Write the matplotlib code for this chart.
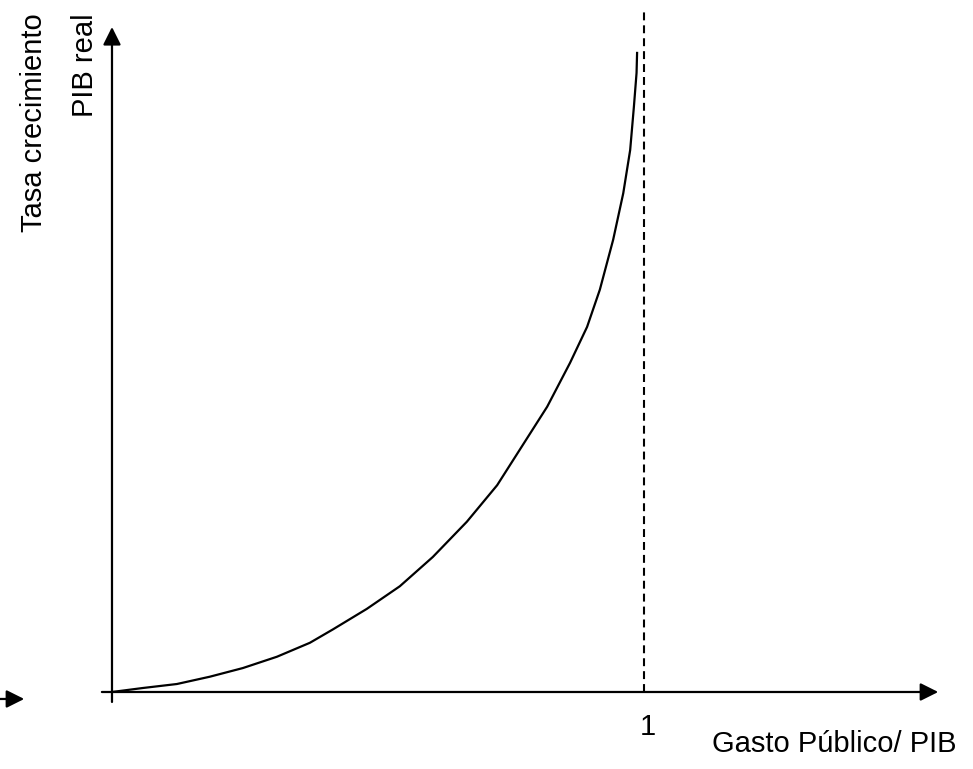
import numpy as np
from matplotlib import pyplot as plt

plt.rcParams['font.family'] = ['Liberation Sans', 'DejaVu Sans']

# curve (x: gasto/PIB, y: crecimiento, axis top = 1)
gasto = [0.0, 0.058, 0.122, 0.184, 0.246, 0.310, 0.372, 0.415, 0.479,
         0.541, 0.603, 0.667, 0.724, 0.818, 0.861, 0.893, 0.917,
         0.942, 0.961, 0.974, 0.981, 0.986, 0.987]
crecimiento = [0.0, 0.006, 0.012, 0.023, 0.036, 0.053, 0.074, 0.094, 0.125,
               0.159, 0.203, 0.256, 0.311, 0.429, 0.495, 0.549, 0.605,
               0.680, 0.750, 0.815, 0.880, 0.931, 0.961]

limite = 1.0
tick_label = "1"
xlabel = "Gasto Público/ PIB"
ylabel_1 = "Tasa crecimiento"
ylabel_2 = "PIB real"


def arrow(ax, start, end):
    ax.annotate("", xy=end, xytext=start,
                arrowprops=dict(arrowstyle="-|>,head_length=0.6,head_width=0.3",
                                mutation_scale=18, color="black", lw=1.6,
                                shrinkA=0, shrinkB=0))


def main():
    fig = plt.figure(figsize=(9.73, 7.69), dpi=100)
    ax = fig.add_axes([0, 0, 1, 1])
    ax.set_xlim(-0.2105, 1.6184)
    ax.set_ylim(-0.1158, 1.0406)
    ax.axis("off")

    # axes
    arrow(ax, (-0.019, 0), (1.553, 0))
    arrow(ax, (0, -0.015), (0, 1.0))
    arrow(ax, (-0.2105, -0.0105), (-0.165, -0.0105))

    ax.plot([limite, limite], [0, 1.026], color="black", lw=1.5,
            linestyle=(0, (3.8, 2.4)))
    ax.plot(gasto, crecimiento, color="black", lw=1.6,
            solid_joinstyle="round")

    ax.text(1.008, -0.053, tick_label, fontsize=21, ha="center", va="center")
    ax.text(1.128, -0.090, xlabel, fontsize=21, ha="left", va="baseline")
    ax.text(-0.147, 1.021, ylabel_1, fontsize=21, rotation=90,
            ha="center", va="top")
    ax.text(-0.051, 1.021, ylabel_2, fontsize=21, rotation=90,
            ha="center", va="top")

    fig.savefig("out.png", dpi=100)


if __name__ == "__main__":
    main()
